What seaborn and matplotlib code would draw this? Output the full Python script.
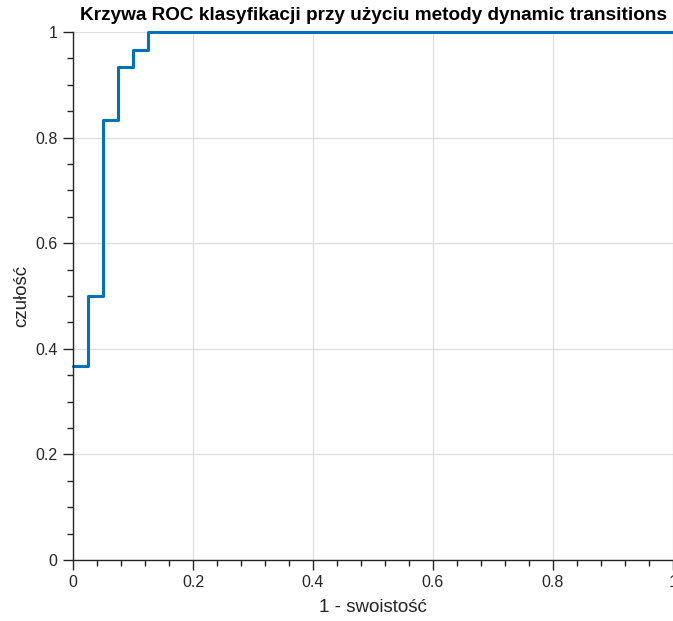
import matplotlib
matplotlib.use("Agg")
import matplotlib.pyplot as plt
import seaborn as sns
from matplotlib.ticker import MultipleLocator

# dane krzywej ROC
fpr = [0.0, 0.025, 0.05, 0.075, 0.1, 0.125, 1.0]
tpr = [0.3667, 0.5, 0.8333, 0.9333, 0.9667, 1.0, 1.0]

tick_vals = [0, 0.2, 0.4, 0.6, 0.8, 1]
tick_labels = ["0", "0.2", "0.4", "0.6", "0.8", "1"]

title = "Krzywa ROC klasyfikacji przy użyciu metody dynamic transitions"
xlabel = "1 - swoistość"
ylabel = "czułość"

sns.set_style("white")
plt.rcParams['font.family'] = ['Liberation Sans', 'DejaVu Sans']

axis_col = "#262626"

fig = plt.figure(figsize=(6.73, 6.21), dpi=100)
ax = fig.add_axes([73 / 673, 61 / 621, 600 / 673, 528 / 621])

sns.lineplot(x=fpr, y=tpr, drawstyle="steps-post", estimator=None,
             color="#0072BD", linewidth=2.2, ax=ax, clip_on=False)

ax.set_xlim(0, 1)
ax.set_ylim(0, 1)
ax.set_xticks(tick_vals)
ax.set_yticks(tick_vals)
ax.set_xticklabels(tick_labels)
ax.set_yticklabels(tick_labels)
ax.xaxis.set_minor_locator(MultipleLocator(0.04))
ax.yaxis.set_minor_locator(MultipleLocator(0.05))

ax.grid(True, which="major", color="#dedede", linewidth=0.9)
ax.set_axisbelow(True)

for side in ["top", "right"]:
    ax.spines[side].set_visible(False)
for side in ["left", "bottom"]:
    ax.spines[side].set_color(axis_col)
    ax.spines[side].set_linewidth(1.0)

ax.tick_params(which="both", bottom=True, left=True, top=False, right=False)
ax.tick_params(which="major", direction="out", length=7, width=1.0,
               color=axis_col, labelcolor=axis_col, labelsize=11.5, pad=4)
ax.tick_params(which="minor", direction="out", length=4, width=1.0,
               color=axis_col)

ax.set_xlabel(xlabel, fontsize=13.5, color=axis_col, labelpad=6)
ax.set_ylabel(ylabel, fontsize=13.5, color=axis_col, labelpad=4)
ax.set_title(title, fontsize=13.7, fontweight="bold", color="black", pad=9)

fig.savefig("out.png", dpi=100)
